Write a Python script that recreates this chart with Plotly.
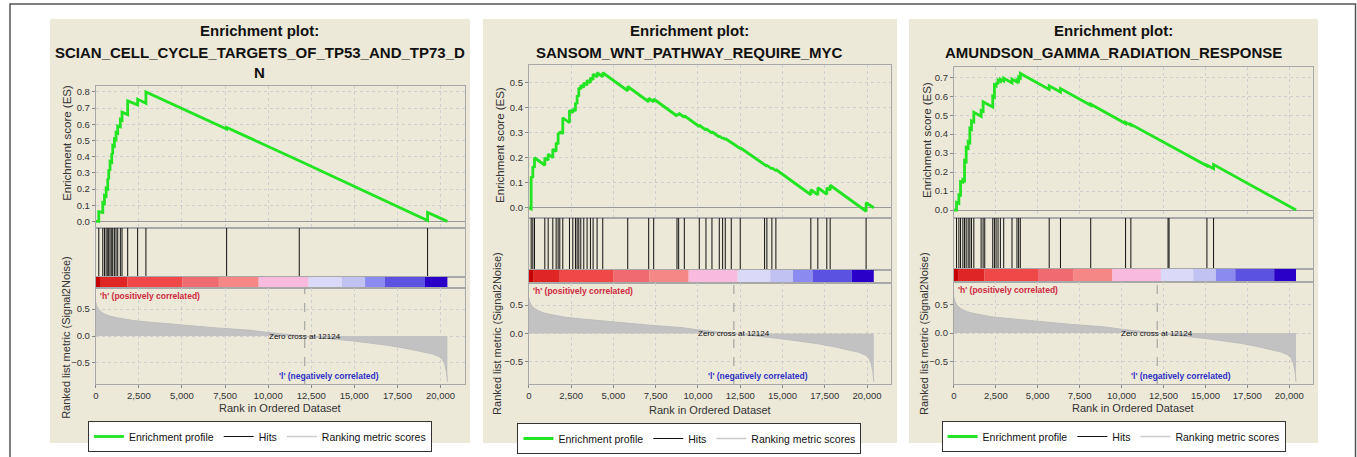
import plotly.graph_objects as go

# ---------------- DATA ----------------
N_GENES = 20400
ZERO_CROSS = 12124
X_TICKS = [0, 2500, 5000, 7500, 10000, 12500, 15000, 17500, 20000]

# Ranked list metric (Signal2Noise), shared by the three plots
METRIC_RANK = [0, 50, 150, 300, 500, 800, 1200, 1700, 2200, 3000, 4000, 5000, 6000, 7000, 8000,
               9000, 10000, 11000, 12124, 13000, 14000, 15000, 16000, 17000, 18000, 19000, 19500,
               19900, 20100, 20250, 20350, 20400]
METRIC_VALUE = [0.63, 0.56, 0.5, 0.45, 0.41, 0.37, 0.34, 0.31, 0.285, 0.26, 0.23, 0.2, 0.175, 0.15,
                0.128, 0.105, 0.065, 0.035, 0.0, -0.03, -0.06, -0.095, -0.135, -0.175, -0.23, -0.29,
                -0.33, -0.38, -0.43, -0.53, -0.68, -0.85]

# Colour bar of the ranked list
CBAR_EDGES = [0, 290, 1830, 5015, 7140, 9450, 12345, 14275, 15625, 16780, 19100, 20400]
CBAR_COLORS = ['#c80000', '#e02525', '#f04848', '#f06a72', '#f58787', '#f8badf', '#dadaf8',
               '#c2c2f2', '#8a8af0', '#5c52e2', '#2a00c8']

# Panel 1: SCIAN_CELL_CYCLE_TARGETS_OF_TP53_AND_TP73_DN
P1_TITLE = ["Enrichment plot:", "SCIAN_CELL_CYCLE_TARGETS_OF_TP53_AND_TP73_D", "N"]
P1_HITS = [173, 405, 503, 600, 694, 751, 828, 925, 983, 1080, 1175, 1272, 1425, 1521, 1850,
           2428, 2908, 7590, 11805, 19250]
P1_ES_RANK = [0, 173, 173, 405, 405, 503, 503, 600, 600, 694, 694, 751, 751, 828, 828, 925, 925,
              983, 983, 1080, 1080, 1175, 1175, 1272, 1272, 1425, 1425, 1521, 1521, 1850, 1850,
              2428, 2428, 2908, 2908, 7590, 7590, 11805, 11805, 19250, 19250, 20400]
P1_ES_VALUE = [0.0, 0.0, 0.06, 0.055, 0.115, 0.11, 0.16, 0.155, 0.205, 0.2, 0.265, 0.26, 0.32,
               0.315, 0.37, 0.365, 0.42, 0.415, 0.47, 0.465, 0.51, 0.505, 0.55, 0.545, 0.59,
               0.585, 0.63, 0.625, 0.675, 0.66, 0.745, 0.72, 0.755, 0.73, 0.80, 0.571, 0.581,
               0.375, 0.375, 0.005, 0.055, 0.0]

# Panel 2: SANSOM_WNT_PATHWAY_REQUIRE_MYC
P2_TITLE = ["Enrichment plot:", "SANSOM_WNT_PATHWAY_REQUIRE_MYC"]
P2_HITS = [138, 236, 335, 945, 1142, 1418, 1615, 1733, 1831, 2008, 2402, 2599, 2757, 2855, 2954,
           3072, 3249, 3446, 3643, 3800, 4036, 4371, 5848, 7088, 7384, 8762, 8861, 9195, 10081,
           10475, 10830, 11263, 11460, 11617, 11972, 12503, 13941, 14078, 14374, 14610, 16677,
           17091, 17623, 17820, 19946]
P2_ES_PRE = [-0.005, 0.12, 0.16, 0.17, 0.19, 0.2, 0.225, 0.254, 0.295, 0.296, 0.34, 0.38, 0.387,
             0.415, 0.445, 0.474, 0.481, 0.49, 0.5, 0.512, 0.523, 0.524, 0.468, 0.424, 0.424,
             0.367, 0.37, 0.362, 0.325, 0.311, 0.299, 0.283, 0.277, 0.273, 0.26, 0.237, 0.17,
             0.166, 0.155, 0.148, 0.052, 0.052, 0.054, 0.07, -0.014]
P2_ES_POST = [0.125, 0.165, 0.2, 0.2, 0.215, 0.235, 0.26, 0.3, 0.305, 0.36, 0.39, 0.395, 0.42,
              0.45, 0.48, 0.49, 0.5, 0.51, 0.52, 0.535, 0.54, 0.54, 0.485, 0.438, 0.435, 0.375,
              0.378, 0.368, 0.33, 0.316, 0.304, 0.287, 0.281, 0.277, 0.263, 0.24, 0.173, 0.17,
              0.16, 0.153, 0.072, 0.08, 0.08, 0.09, 0.02]
P2_ES_END = 0.0

# Panel 3: AMUNDSON_GAMMA_RADIATION_RESPONSE
P3_TITLE = ["Enrichment plot:", "AMUNDSON_GAMMA_RADIATION_RESPONSE"]
P3_HITS = [158, 297, 396, 535, 634, 733, 851, 950, 1049, 1188, 1624, 1742, 1841, 2317, 2416, 2515,
           2633, 2772, 2970, 3465, 3762, 3861, 3960, 5683, 6356, 8158, 10237, 10553, 12771, 12830,
           15088, 15484]
P3_ES_PRE = [0.0, 0.035, 0.078, 0.147, 0.155, 0.255, 0.325, 0.355, 0.425, 0.465, 0.494, 0.52,
             0.565, 0.543, 0.595, 0.655, 0.664, 0.678, 0.68, 0.67, 0.675, 0.68, 0.695, 0.636,
             0.622, 0.552, 0.456, 0.447, 0.343, 0.342, 0.233, 0.218]
P3_ES_POST = [0.04, 0.08, 0.15, 0.16, 0.26, 0.33, 0.36, 0.43, 0.47, 0.515, 0.525, 0.57, 0.568,
              0.6, 0.66, 0.67, 0.685, 0.69, 0.695, 0.69, 0.685, 0.7, 0.72, 0.655, 0.64, 0.558,
              0.462, 0.452, 0.345, 0.344, 0.237, 0.24]
P3_ES_END = 0.0

# ---------------- LAYOUT GEOMETRY (pixels) ----------------
W, H = 1357, 457
XMAX = 21420


def fx(px):
    return px / W


def fy(py):
    return 1 - py / H


PANELS = [
    dict(beige=(47, 19, 468, 443), x=(93, 463), es=(86, 228), hits=(228, 277), cb=(277, 288),
         rk=(288, 384), es_range=[-0.041, 0.837], title=P1_TITLE, title_y=[30, 52, 72],
         es_title=(64, 143), rk_title=(63, 337), xt_y=408, leg=(257.5, 421)),
    dict(beige=(481, 19, 896, 443), x=(527, 890), es=(65, 218), hits=(218, 270), cb=(270, 283),
         rk=(283, 384), es_range=[-0.041, 0.571], title=P2_TITLE, title_y=[30, 52],
         es_title=(498, 145), rk_title=(495, 333), xt_y=410, leg=(688, 423)),
    dict(beige=(908, 19, 1318, 443), x=(953, 1313), es=(67, 218), hits=(218, 269), cb=(269, 282),
         rk=(282, 384), es_range=[-0.042, 0.754], title=P3_TITLE, title_y=[30, 52],
         es_title=(926, 140), rk_title=(923, 333), xt_y=408, leg=(1113, 421)),
]


def es_from_hits(hits, pre, post, end):
    xs, ys = [0], [0.0]
    for h, a, b in zip(hits, pre, post):
        xs += [h, h]
        ys += [a, b]
    xs.append(N_GENES)
    ys.append(end)
    return xs, ys


ES_DATA = [
    (P1_ES_RANK, P1_ES_VALUE, P1_HITS),
    es_from_hits(P2_HITS, P2_ES_PRE, P2_ES_POST, P2_ES_END) + (P2_HITS,),
    es_from_hits(P3_HITS, P3_ES_PRE, P3_ES_POST, P3_ES_END) + (P3_HITS,),
]

FONT = "Liberation Sans, Arial, sans-serif"
GREEN = '#22e422'
GRID = '#cfcfcf'
FRAME = '#a8a8a8'
TICKFONT = dict(family=FONT, size=9.5, color='#333333')

fig = go.Figure()
layout = dict(width=W, height=H, autosize=False, margin=dict(l=0, r=0, t=0, b=0),
              paper_bgcolor='white', plot_bgcolor='white', showlegend=True)
shapes, annotations = [], []

# outer frame
shapes.append(dict(type='rect', xref='paper', yref='paper', x0=fx(7), x1=fx(1355.5), y0=-0.05,
                   y1=fy(4), line=dict(color='#555555', width=1.5), fillcolor='rgba(0,0,0,0)'))

cb_mid = [(a + b) / 2 for a, b in zip(CBAR_EDGES[:-1], CBAR_EDGES[1:])]
cb_w = [b - a for a, b in zip(CBAR_EDGES[:-1], CBAR_EDGES[1:])]

for p, P in enumerate(PANELS):
    leg = 'legend' if p == 0 else f'legend{p + 1}'
    k0 = p * 4
    ids = [k0 + 1, k0 + 2, k0 + 3, k0 + 4]
    ax = [f'x{i}' if i > 1 else 'x' for i in ids]
    ay = [f'y{i}' if i > 1 else 'y' for i in ids]
    bx0, by0, bx1, by1 = P['beige']
    shapes.append(dict(type='rect', xref='paper', yref='paper', x0=fx(bx0), x1=fx(bx1),
                       y0=fy(by1), y1=fy(by0), fillcolor='#ece9d8', line=dict(width=0),
                       layer='below'))
    rows = [P['es'], P['hits'], P['cb'], P['rk']]
    for r, (top, bot) in enumerate(rows):
        i = ids[r]
        xkey = 'xaxis' if i == 1 else f'xaxis{i}'
        ykey = 'yaxis' if i == 1 else f'yaxis{i}'
        xa = dict(domain=[fx(P['x'][0]), fx(P['x'][1])], range=[0, XMAX], anchor=ay[r],
                  showline=True, mirror=True, linecolor=FRAME, linewidth=1, zeroline=False,
                  showgrid=False, showticklabels=False, ticks='', fixedrange=True)
        ya = dict(domain=[fy(bot), fy(top)], anchor=ax[r], showline=True, mirror=True,
                  linecolor=FRAME, linewidth=1, zeroline=False, showgrid=False,
                  showticklabels=False, ticks='', fixedrange=True)
        if r in (0, 3):
            xa.update(showgrid=True, gridcolor=GRID, griddash='dot', gridwidth=1,
                      tickvals=X_TICKS)
        if r == 0:
            ya.update(range=P['es_range'], dtick=0.1, tick0=0, tickformat='.1f',
                      showticklabels=True, ticks='outside', ticklen=3, tickcolor='#888',
                      tickfont=TICKFONT, showgrid=True, gridcolor=GRID, griddash='dot',
                      zeroline=True, zerolinecolor='#999999', zerolinewidth=1)
        elif r == 3:
            xa.update(tickformat=',', showticklabels=True, ticks='outside', ticklen=3,
                      tickcolor='#888', tickfont=TICKFONT)
            ya.update(range=[-0.89, 0.89], tickvals=[-0.5, 0, 0.5], tickformat='.1f',
                      showticklabels=True, ticks='outside', ticklen=3, tickcolor='#888',
                      tickfont=TICKFONT, showgrid=True, gridcolor=GRID, griddash='dot')
        else:
            ya.update(range=[0, 1])
        layout[xkey] = xa
        layout[ykey] = ya

    es_x, es_y, hits = ES_DATA[p]
    # enrichment profile
    fig.add_trace(go.Scatter(x=es_x, y=es_y, mode='lines', line=dict(color=GREEN, width=2.8),
                             name='Enrichment profile', xaxis=ax[0], yaxis=ay[0], legend=leg,
                             hoverinfo='skip'))
    # hits
    hx, hy = [], []
    for h in hits:
        hx += [h, h, None]
        hy += [0, 1, None]
    fig.add_trace(go.Scatter(x=hx, y=hy, mode='lines', line=dict(color='#111111', width=1),
                             name='Hits', xaxis=ax[1], yaxis=ay[1], legend=leg,
                             hoverinfo='skip'))
    # legend entry for ranking metric
    fig.add_trace(go.Scatter(x=[None], y=[None], mode='lines',
                             line=dict(color='#cccccc', width=1.5), name='Ranking metric scores',
                             xaxis=ax[3], yaxis=ay[3], legend=leg))
    # colour bar
    fig.add_trace(go.Bar(x=cb_mid, y=[1] * len(cb_mid), width=cb_w, base=0,
                         marker=dict(color=CBAR_COLORS, line=dict(width=0)), showlegend=False,
                         xaxis=ax[2], yaxis=ay[2], hoverinfo='skip'))
    # ranked list metric
    fig.add_trace(go.Scatter(x=METRIC_RANK, y=METRIC_VALUE, mode='lines', fill='tozeroy',
                             line=dict(color='#bdbdbd', width=1), fillcolor='#c2c2c2',
                             showlegend=False, xaxis=ax[3], yaxis=ay[3], hoverinfo='skip'))

    # zero cross
    shapes.append(dict(type='line', xref=ax[3], yref=f'{ay[3]} domain', x0=ZERO_CROSS,
                       x1=ZERO_CROSS, y0=0, y1=1, line=dict(color='#999999', width=1, dash='dash')))
    annotations.append(dict(xref=ax[3], yref=ay[3], x=ZERO_CROSS, y=0,
                            text=f'Zero cross at {ZERO_CROSS}', showarrow=False,
                            xanchor='center', yanchor='middle',
                            font=dict(family=FONT, size=8, color='#111111')))
    annotations.append(dict(xref=f'{ax[3]} domain', yref=f'{ay[3]} domain', x=0.005, y=1,
                            text="<b>'h' (positively correlated)</b>", showarrow=False,
                            xanchor='left', yanchor='top', yshift=-1,
                            font=dict(family=FONT, size=8.5, color='#d02840')))
    annotations.append(dict(xref=f'{ax[3]} domain', yref=f'{ay[3]} domain', x=0.632, y=0,
                            text="<b>'l' (negatively correlated)</b>", showarrow=False,
                            xanchor='center', yanchor='bottom', yshift=1,
                            font=dict(family=FONT, size=8.5, color='#3030c8')))
    # titles
    for line, ty in zip(P['title'], P['title_y']):
        annotations.append(dict(xref='paper', yref='paper', x=fx((bx0 + bx1) / 2), y=fy(ty),
                                text=f'<b>{line}</b>', showarrow=False, xanchor='center',
                                yanchor='middle', font=dict(family=FONT, size=15, color='#111')))
    # axis titles
    annotations.append(dict(xref='paper', yref='paper', x=fx(P['es_title'][0]),
                            y=fy(P['es_title'][1]), text='Enrichment score (ES)', textangle=-90,
                            showarrow=False, xanchor='center', yanchor='middle',
                            font=dict(family=FONT, size=11.5, color='#333')))
    annotations.append(dict(xref='paper', yref='paper', x=fx(P['rk_title'][0]),
                            y=fy(P['rk_title'][1]), text='Ranked list metric (Signal2Noise)',
                            textangle=-90, showarrow=False, xanchor='center', yanchor='middle',
                            font=dict(family=FONT, size=11, color='#333')))
    annotations.append(dict(xref='paper', yref='paper', x=fx((P['x'][0] + P['x'][1]) / 2),
                            y=fy(P['xt_y']), text='Rank in Ordered Dataset', showarrow=False,
                            xanchor='center', yanchor='middle',
                            font=dict(family=FONT, size=11, color='#333')))
    layout[leg] = dict(x=fx(P['leg'][0]), y=fy(P['leg'][1]), xanchor='center', yanchor='top',
                       orientation='h', bgcolor='white', bordercolor='#333', borderwidth=1,
                       font=dict(family=FONT, size=10.5, color='#111'), itemwidth=30,
                       tracegroupgap=0, itemclick=False, itemdoubleclick=False)

layout['shapes'] = shapes
layout['annotations'] = annotations
fig.update_layout(**layout)
fig.write_html("out.html")
